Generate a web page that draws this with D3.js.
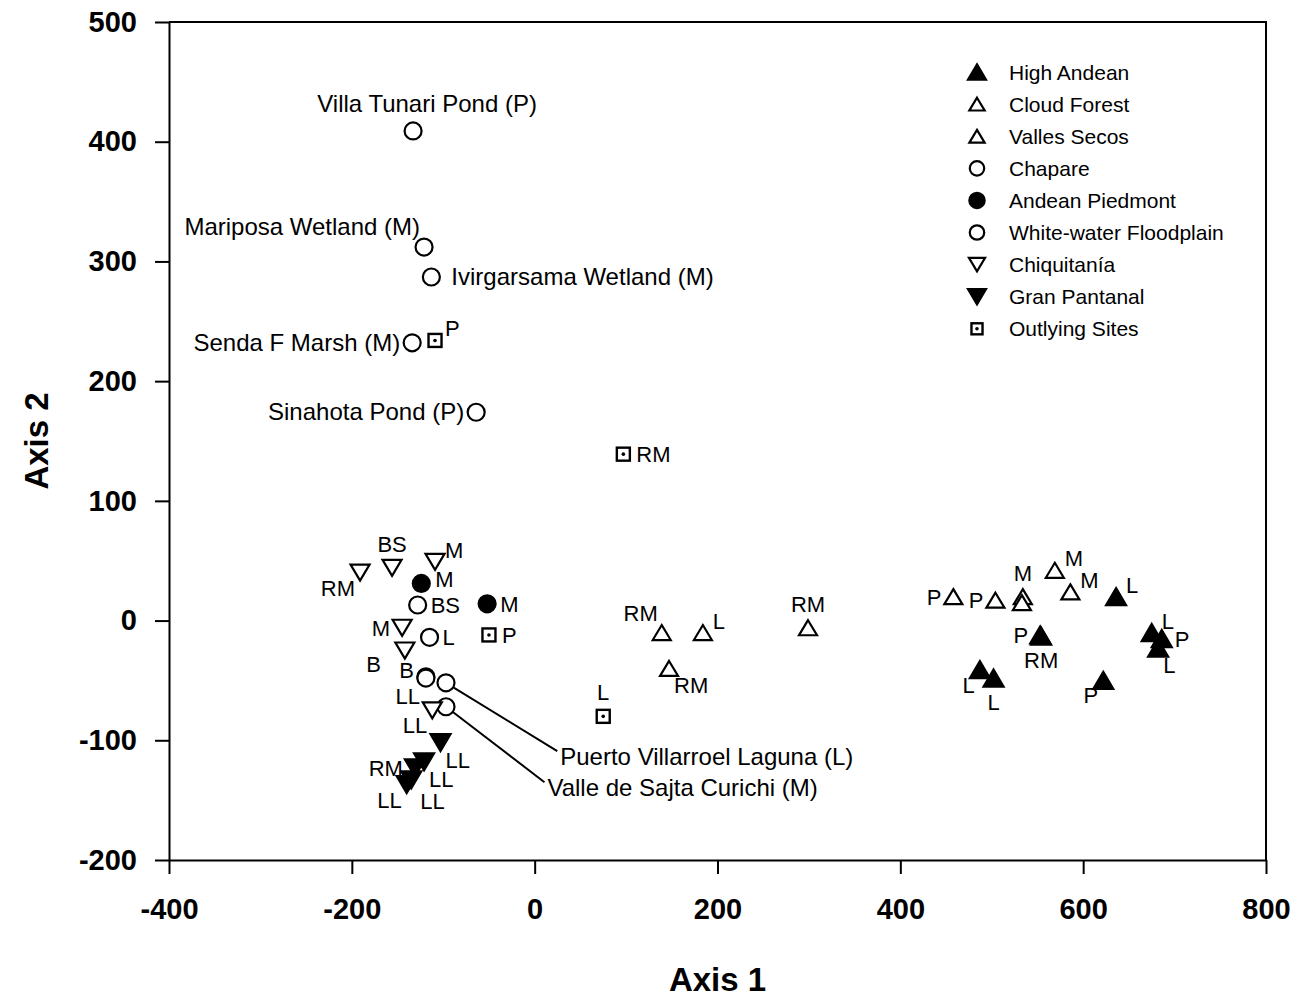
<!DOCTYPE html>
<html><head><meta charset="utf-8">
<script src="https://cdn.jsdelivr.net/npm/d3@7"></script>
<style>
body{margin:0;background:#fff;}
text{font-family:"Liberation Sans",Arial,sans-serif;fill:#000;}
</style>
</head><body>
<svg id="chart" width="1297" height="1000"></svg>
<script>
// ---------- DATA ----------
const xTicks = [-400, -200, 0, 200, 400, 600, 800];
const yTicks = [-200, -100, 0, 100, 200, 300, 400, 500];
const xTitle = "Axis 1";
const yTitle = "Axis 2";

const categories = ["High Andean","Cloud Forest","Valles Secos","Chapare","Andean Piedmont",
  "White-water Floodplain","Chiquitanía","Gran Pantanal","Outlying Sites"];

// [axis1, axis2, label]
const highAndean = [[636,20,"L"],[553,-12,"P"],[554,-13,"RM"],[675,-10,"L"],[686,-15,"P"],
  [682,-23,"L"],[487,-41,"L"],[502,-48,"L"],[622,-50,"P"]];
const highAndeanPlace = ["tr","l","b","tr","r","br","bl","b","bl"];

const cloudForest = [[139,-10,"RM"],[184,-10,"L"],[147,-40,"RM"],[299,-6,"RM"]];
const cloudForestPlace = ["tl","tr","br","t"];

const vallesSecos = [[458,20,"P"],[504,17,"P"],[534,20,"M"],[533,15,""],[569,42,"M"],[586,24,"M"]];
const vallesSecosPlace = ["l","l","t","r","tr","tr"];

const chapare = [[-133,409,"Villa Tunari Pond (P)"],[-121,312,"Mariposa Wetland (M)"],
  [-113,287,"Ivirgarsama Wetland (M)"],[-134,232,"Senda F Marsh (M)"],[-64,174,"Sinahota Pond (P)"],
  [-97,-52,"Puerto Villarroel Laguna (L)"],[-97,-72,"Valle de Sajta Curichi (M)"]];
const chaparePlace = ["tR","tl","rr","l","l","lead","lead"];
// label anchors (axis units) for the two leader-line labels
const leaderAnchors = {"Puerto Villarroel Laguna (L)":[28,-114], "Valle de Sajta Curichi (M)":[14,-140]};

const andeanPiedmont = [[-124,31,"M"],[-52,14,"M"]];
const andeanPiedmontPlace = ["ru","r"];

const whiteWater = [[-128,13,"BS"],[-115,-14,"L"],[-119,-47,"B"],[-119,-48,"LL"]];
const whiteWaterPlace = ["r","r","lu","blw"];

const chiquitania = [[-191,40,"RM"],[-156,44,"BS"],[-109,49,"M"],[-145,-6,"M"],[-142,-25,"B"],[-112,-75,"LL"]];
const chiquitaniaPlace = ["bl","t","tr","l","lfar","bl"];

const granPantanal = [[-103,-102,"LL"],[-121,-118,"LL"],[-131,-123,"RM"],[-140,-137,"LL"],[-135,-133,"LL"]];
const granPantanalPlace = ["br","br","l","bl","brw"];

const outlying = [[-109,234,"P"],[97,139,"RM"],[-50,-12,"P"],[75,-80,"L"]];
const outlyingPlace = ["tr","r","r","t"];

// ---------- RENDER ----------
const series = [
  {name:categories[0], pts:highAndean, place:highAndeanPlace, shape:"up", filled:true},
  {name:categories[1], pts:cloudForest, place:cloudForestPlace, shape:"up", filled:false},
  {name:categories[2], pts:vallesSecos, place:vallesSecosPlace, shape:"up", filled:false},
  {name:categories[3], pts:chapare, place:chaparePlace, shape:"circle", filled:false},
  {name:categories[4], pts:andeanPiedmont, place:andeanPiedmontPlace, shape:"circle", filled:true},
  {name:categories[5], pts:whiteWater, place:whiteWaterPlace, shape:"circle", filled:false},
  {name:categories[6], pts:chiquitania, place:chiquitaniaPlace, shape:"down", filled:false},
  {name:categories[7], pts:granPantanal, place:granPantanalPlace, shape:"down", filled:true},
  {name:categories[8], pts:outlying, place:outlyingPlace, shape:"square", filled:false}
];

const svg = d3.select("#chart");
const L=169, R=1266, T=22, B=860;
const x = d3.scaleLinear().domain([-400,800]).range([L,R]);
const y = d3.scaleLinear().domain([-200,500]).range([B,T]);

// frame (top + right)
svg.append("path").attr("d",`M${L},${T}H${R}V${B}`).attr("fill","none").attr("stroke","#000").attr("stroke-width",2);

const fmt = d => String(d);
const xAxis = svg.append("g").attr("transform",`translate(0,${B})`)
  .call(d3.axisBottom(x).tickValues(xTicks).tickSize(14).tickSizeOuter(0).tickPadding(24).tickFormat(fmt));
const yAxis = svg.append("g").attr("transform",`translate(${L},0)`)
  .call(d3.axisLeft(y).tickValues(yTicks).tickSize(14).tickSizeOuter(0).tickPadding(18).tickFormat(fmt));
[xAxis,yAxis].forEach(g=>{
  g.selectAll("path,line").attr("stroke","#000").attr("stroke-width",2);
  g.selectAll("text").attr("font-family","'Liberation Sans',Arial,sans-serif")
    .attr("font-size",29).attr("font-weight","bold").attr("fill","#000");
});

svg.append("text").attr("x",(L+R)/2).attr("y",991).attr("text-anchor","middle")
  .attr("font-size",33).attr("font-weight","bold").text(xTitle);
svg.append("text").attr("transform",`translate(48,${(T+B)/2}) rotate(-90)`).attr("text-anchor","middle")
  .attr("font-size",33).attr("font-weight","bold").text(yTitle);

function drawSymbol(g, shape, filled, cx, cy, sc){
  const fill = filled ? "#000" : "#fff";
  const sw = 2.2;
  if(shape==="up"){
    const w=(filled?20:18)*sc, h=(filled?17:15)*sc;
    g.append("path").attr("d",`M${cx},${cy-h/2}L${cx+w/2},${cy+h/2}L${cx-w/2},${cy+h/2}Z`)
      .attr("fill",fill).attr("stroke","#000").attr("stroke-width",sw).attr("stroke-linejoin","miter");
  } else if(shape==="down"){
    const w=(filled?20:19)*sc, h=(filled?17:16)*sc;
    g.append("path").attr("d",`M${cx-w/2},${cy-h/2}L${cx+w/2},${cy-h/2}L${cx},${cy+h/2}Z`)
      .attr("fill",fill).attr("stroke","#000").attr("stroke-width",sw);
  } else if(shape==="circle"){
    g.append("circle").attr("cx",cx).attr("cy",cy).attr("r",8.5*sc)
      .attr("fill",fill).attr("stroke","#000").attr("stroke-width",sw);
  } else if(shape==="square"){
    const s=13*sc;
    g.append("rect").attr("x",cx-s/2).attr("y",cy-s/2).attr("width",s).attr("height",s)
      .attr("fill","#fff").attr("stroke","#000").attr("stroke-width",2.4);
    g.append("circle").attr("cx",cx).attr("cy",cy).attr("r",1.8).attr("fill","#000");
  }
}

const placeMap = {
  r:{a:"start",dx:13,dy:8}, rr:{a:"start",dx:20,dy:8}, ru:{a:"start",dx:14,dy:4},
  l:{a:"end",dx:-12,dy:8}, lu:{a:"end",dx:-12,dy:1},
  lfar:{a:"end",dx:-24,dy:21},
  tr:{a:"start",dx:10,dy:-4}, tl:{a:"end",dx:-4,dy:-12},
  br:{a:"start",dx:5,dy:25}, brw:{a:"start",dx:9,dy:29},
  bl:{a:"end",dx:-5,dy:23}, blw:{a:"end",dx:-6,dy:26},
  t:{a:"middle",dx:0,dy:-16}, tR:{a:"middle",dx:14,dy:-19}, b:{a:"middle",dx:0,dy:32}
};

const gLead = svg.append("g"), gLab = svg.append("g"), gMark = svg.append("g");
series.forEach(s=>{
  s.pts.forEach((p,i)=>{
    const px=x(p[0]), py=y(p[1]);
    const code=s.place[i];
    const fs = p[2].length > 3 ? 24 : 22;
    if(p[2]){
      if(code==="lead"){
        const an=leaderAnchors[p[2]];
        const ax=x(an[0]), ay=y(an[1]);
        gLead.append("line").attr("x1",px).attr("y1",py).attr("x2",ax-3).attr("y2",ay-6)
          .attr("stroke","#000").attr("stroke-width",2);
        gLab.append("text").attr("x",ax).attr("y",ay+8).attr("font-size",fs).text(p[2]);
      } else {
        const pm=placeMap[code];
        gLab.append("text").attr("x",px+pm.dx).attr("y",py+pm.dy).attr("text-anchor",pm.a)
          .attr("font-size",fs).text(p[2]);
      }
    }
    drawSymbol(gMark, s.shape, s.filled, px, py, 1);
  });
});

// legend
const lg = svg.append("g");
series.forEach((s,i)=>{
  const cy = 72 + i*32.1;
  drawSymbol(lg, s.shape, s.filled, 977, cy, s.filled?0.9:0.85);
  lg.append("text").attr("x",1009).attr("y",cy+7.5).attr("font-size",21).text(s.name);
});
</script>
</body></html>
